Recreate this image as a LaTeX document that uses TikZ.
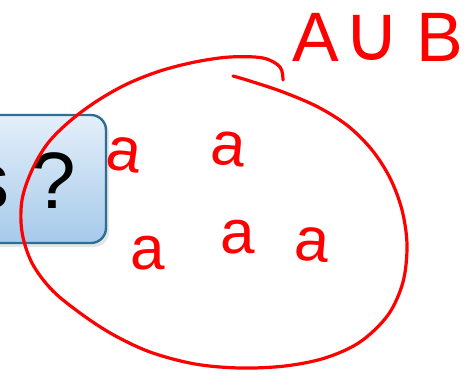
\documentclass[tikz,border=0pt]{standalone}
\usepackage{fontspec}
\setmainfont{Liberation Sans}
\newfontfamily\cupfont{DejaVu Sans}
\usetikzlibrary{positioning}

\definecolor{inkred}{RGB}{255,0,0}
\definecolor{boxedge}{RGB}{46,110,148}
\definecolor{boxtop}{RGB}{228,239,250}
\definecolor{boxbot}{RGB}{166,202,234}

\begin{document}
\begin{tikzpicture}[
  x=1pt, y=-1pt,
  ink/.style  = {draw=inkred, line width=3.2pt, line cap=round, line join=round},
  hand/.style = {text=inkred, inner sep=0pt, font=\fontsize{62}{62}\selectfont},
  qbox/.style = {draw=boxedge, line width=2.4pt, rounded corners=15pt,
                 top color=boxtop, bottom color=boxbot},
]
  \useasboundingbox (0,0) rectangle (468,375);
  \clip (0,0) rectangle (468,375);

%--- question box (cut at left edge) ---
  \fill[black, opacity=0.10, rounded corners=15pt] (-100,118) rectangle (109,247);
  \path[qbox] (-100,115) rectangle (106,243);
  \node[inner sep=0pt, anchor=base east, font=\fontsize{80}{80}\selectfont]
    (qtext) at (76,208) {s ?};

%--- set A u B ---
  \node[hand, font=\fontsize{70}{70}\selectfont] (setA) at (316,37) {A};
  \node[hand, font=\cupfont\fontsize{78}{78}\selectfont] (cupsym) at (372,38) {∪};
  \node[hand, font=\fontsize{70}{70}\selectfont] (setB) at (440,37) {B};

%--- elements ---
  \node[hand, rotate=-8] (elemA) at (124,155) {a};
  \node[hand, rotate=-6] (elemB) at (228,149) {a};
  \node[hand] (elemC) at (148,253) {a};
  \node[hand] (elemD) at (238,237) {a};
  \node[hand, rotate=-5] (elemE) at (312,245) {a};

%--- the set boundary ---
  \draw[ink] plot[smooth, tension=0.55] coordinates {
    (283,80) (280,67) (263,58) (230,57) (195,62) (160,71) (127,84)
    (97,101) (70,121) (48,143) (32,170) (22,200) (22,232) (32,263)
    (52,290) (80,313) (112,334) (150,352) (195,364) (240,368)
    (285,366) (325,358) (360,342) (388,315) (403,282) (407,245)
    (402,210) (390,178) (372,150) (348,126) (318,107) (283,92)
    (250,81) (233,76)};
\end{tikzpicture}
\end{document}
